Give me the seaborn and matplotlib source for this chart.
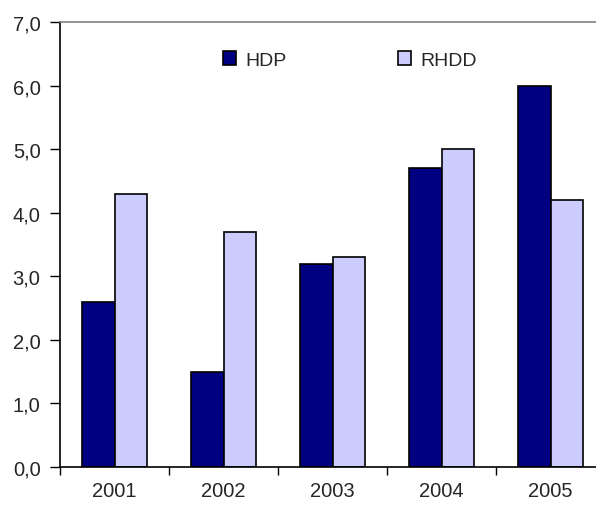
import pandas as pd
import matplotlib
matplotlib.use('Agg')
import matplotlib.pyplot as plt
import seaborn as sns
from matplotlib.ticker import FuncFormatter, FixedLocator

years = ['2001', '2002', '2003', '2004', '2005']
hdp = [2.6, 1.5, 3.2, 4.7, 6.0]
rhdd = [4.3, 3.7, 3.3, 5.0, 4.2]
series = ['HDP', 'RHDD']
colors = ['#000080', '#CCCCFF']

df = pd.DataFrame({
    'year': years * 2,
    'value': hdp + rhdd,
    'series': ['HDP'] * len(years) + ['RHDD'] * len(years),
})

sns.set_style('white')
plt.rcParams['font.family'] = ['Liberation Sans', 'DejaVu Sans']

fig = plt.figure(figsize=(5.96, 5.06), dpi=100)
# plot area runs a little past the right edge of the picture
ax = fig.add_axes([60 / 596, (506 - 468) / 506, 545 / 596, 445 / 506])

sns.barplot(data=df, x='year', y='value', hue='series', palette=colors,
            width=0.59, edgecolor='black', linewidth=1.2, saturation=1,
            ax=ax)

ax.set_ylim(0, 7)
ax.set_xlim(-0.5, 4.5)
ax.set_yticks([0, 1, 2, 3, 4, 5, 6, 7])
ax.yaxis.set_major_formatter(FuncFormatter(lambda v, p: f'{v:.1f}'.replace('.', ',')))

# year labels centred, tick marks between the groups
ax.set_xticks([i - 0.5 for i in range(len(years) + 1)])
ax.set_xticklabels([])
ax.xaxis.set_minor_locator(FixedLocator(range(len(years))))
ax.set_xticklabels(years, minor=True)
ax.tick_params(axis='x', which='major', direction='out', length=6, width=1, color='black', bottom=True)
ax.tick_params(axis='x', which='minor', length=0, pad=10, labelsize=14.5)
ax.tick_params(axis='y', direction='out', length=7, width=1, color='black', left=True, labelsize=14.5, pad=7)

ax.set_xlabel('')
ax.set_ylabel('')

for s in ['left', 'bottom']:
    ax.spines[s].set_color('black')
    ax.spines[s].set_linewidth(1.2)
ax.spines['top'].set_color('#808080')
ax.spines['top'].set_linewidth(1.2)
ax.spines['right'].set_visible(False)

ax.get_legend().remove()
handles, labels = ax.get_legend_handles_labels()
for h in handles:
    h.set_linewidth(1.2)
fig.legend(handles, labels, loc='center left', bbox_to_anchor=(222.7 / 596, 1 - 61 / 506),
           ncol=2, frameon=False, fontsize=14, handlelength=0.7, handleheight=0.7,
           handletextpad=0.48, columnspacing=5.7, borderpad=0, borderaxespad=0)

fig.savefig('out.png', dpi=100)
